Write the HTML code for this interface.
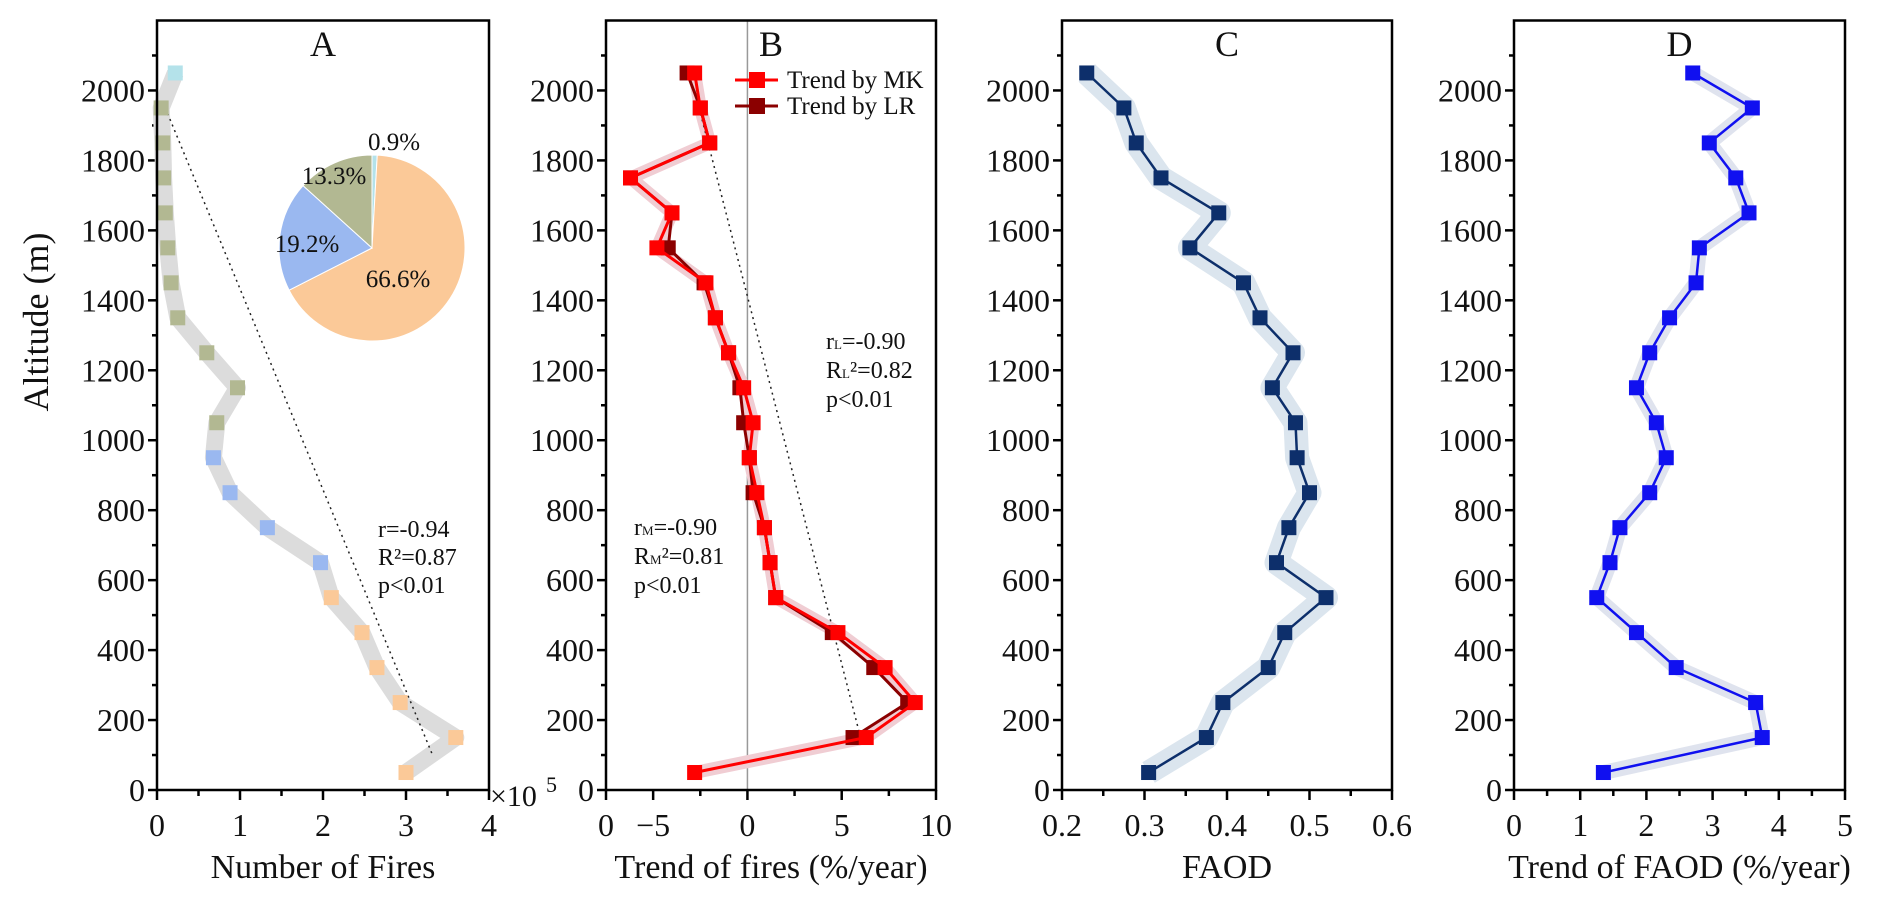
<!DOCTYPE html>
<html><head><meta charset="utf-8">
<style>
html,body{margin:0;padding:0;background:#fff;}
svg, svg text, svg tspan{font-family:"Liberation Serif","DejaVu Serif",serif;fill:#111;}
</style></head>
<body>
<svg id="fig" width="1892" height="900" viewBox="0 0 1892 900" font-family="Liberation Serif, DejaVu Serif, serif" xmlns="http://www.w3.org/2000/svg"></svg>
<script>
// ---- data ----
const altitudes = [50,150,250,350,450,550,650,750,850,950,1050,1150,1250,1350,1450,1550,1650,1750,1850,1950,2050];
const fires = [3.0,3.6,2.93,2.65,2.47,2.1,1.97,1.33,0.88,0.68,0.72,0.97,0.6,0.25,0.17,0.13,0.1,0.08,0.07,0.05,0.22];
const fireGroup = ['o','o','o','o','o','o','b','b','b','b','g','g','g','g','g','g','g','g','g','g','c'];
const pieLabels = ['0.9%','66.6%','19.2%','13.3%'];
const pieValues = [0.9,66.6,19.2,13.3];
const trendMK = [-2.8,6.3,8.9,7.3,4.8,1.5,1.2,0.9,0.5,0.1,0.3,-0.2,-1.0,-1.7,-2.2,-4.8,-4.0,-6.2,-2.0,-2.5,-2.8];
const trendLR = [null,5.6,8.5,6.7,4.5,1.5,1.2,0.9,0.3,0.1,-0.2,-0.4,-1.0,-1.7,-2.3,-4.2,-4.0,-6.2,-2.0,-2.5,-3.2];
const faod = [0.305,0.375,0.395,0.45,0.47,0.52,0.46,0.475,0.5,0.485,0.483,0.455,0.48,0.44,0.42,0.355,0.39,0.32,0.29,0.275,0.23];
const faodTrend = [1.35,3.75,3.65,2.45,1.85,1.25,1.45,1.6,2.05,2.3,2.15,1.85,2.05,2.35,2.75,2.8,3.55,3.35,2.95,3.6,2.7];
const yTicks = [0,200,400,600,800,1000,1200,1400,1600,1800,2000];
const xTicksA = [0,1,2,3,4];
const xTicksB = [-7.5,-5,0,5,10];
const xTickLabelsB = ['0','\u22125','0','5','10'];
const xTicksC = [0.2,0.3,0.4,0.5,0.6];
const xTicksD = [0,1,2,3,4,5];

const NS='http://www.w3.org/2000/svg';
const svg=document.getElementById('fig');
function mk(tag,attrs,parent,txt){const e=document.createElementNS(NS,tag);for(const k in attrs)e.setAttribute(k,attrs[k]);if(tag==='text')e.setAttribute('font-family','Liberation Serif, DejaVu Serif, serif');if(txt!==undefined)e.textContent=txt;(parent||svg).appendChild(e);return e;}

const TOP=20.5, BOT=790, YMAX=2200;
function yS(v){return BOT-(v/YMAX)*(BOT-TOP);}
function makeX(l,r,a,b){return v=>l+(v-a)/(b-a)*(r-l);}

function panel(name,l,r,xmin,xmax,ticks,labels,minorStep,title,letter){
  const g=mk('g',{});
  
  
  const xs=makeX(l,r,xmin,xmax);
  for(let v=0;v<=2100;v+=100){
    const major=v%200===0;
    const t=mk('line',{x1:l,x2:l-(major?9:5),y1:yS(v),y2:yS(v),stroke:'#000','stroke-width':2.5},g);
    
    
  }
  yTicks.forEach(v=>{
    const t=mk('text',{x:l-12,y:yS(v)+11,'text-anchor':'end','font-size':32},g,String(v));
    
    
  });
  for(let v=xmin;v<=xmax+1e-9;v+=minorStep){
    const isMajor=ticks.some(t=>Math.abs(t-v)<1e-9);
    const t=mk('line',{x1:xs(v),x2:xs(v),y1:BOT,y2:BOT+(isMajor?10:6),stroke:'#000','stroke-width':2.5},g);
    
    
  }
  ticks.forEach((v,i)=>{
    const t=mk('text',{x:xs(v),y:836,'text-anchor':'middle','font-size':32},g,labels[i]);
    
    
  });
  const tt=mk('text',{x:(l+r)/2,y:878,'text-anchor':'middle','font-size':34},g,title);
  
  
  const lt=mk('text',{x:(l+r)/2,y:56,'text-anchor':'middle','font-size':36},g,letter);
  
  
  return {g,xs};
}
function frame(l,r,g){
  const f=mk('rect',{x:l,y:TOP,width:r-l,height:BOT-TOP,fill:'none',stroke:'#000','stroke-width':2.5},g);
  
  
}
function pts(xs,vals){const p=[];vals.forEach((v,i)=>{if(v!==null)p.push(xs(v).toFixed(1)+','+yS(altitudes[i]).toFixed(1));});return p.join(' ');}
function markers(g,xs,vals,color,size,nm,colorsArr){
  vals.forEach((v,i)=>{if(v===null)return;
    const m=mk('rect',{x:xs(v)-size/2,y:yS(altitudes[i])-size/2,width:size,height:size,fill:colorsArr?colorsArr[i]:color},g);
    
    
  });
}

const yt=mk('text',{x:0,y:0,'text-anchor':'middle','font-size':36,transform:'translate(48,322) rotate(-90)'},svg,'Altitude (m)');



// ---- Panel A ----
{
  const L=157,R=489;
  const {g,xs}=panel('fires',L,R,0,4,xTicksA,['0','1','2','3','4'],0.5,'Number of Fires','A');
  const band=mk('polyline',{points:pts(xs,fires),fill:'none',stroke:'#dcdcdc','stroke-width':17,'stroke-linejoin':'round'},g);
  
  
  const reg=mk('line',{x1:xs(0.1),y1:yS(1950),x2:xs(3.32),y2:yS(100),stroke:'#222','stroke-width':1.5,'stroke-dasharray':'2,4'},g);
  
  
  const cmap={o:'#fbc998',b:'#9ab8f0',g:'#b2b892',c:'#b4e2ea'};
  markers(g,xs,fires,null,15,'fire-marker',fireGroup.map(k=>cmap[k]));
  frame(L,R,g);
  const ex=mk('text',{x:490,y:806,'font-size':30},g,'\u00d710');
  
  
  const ex2=mk('text',{x:546,y:792,'font-size':22},g,'5');
  
  
  ['r=-0.94','R\u00b2=0.87','p<0.01'].forEach((s,i)=>{
    const t=mk('text',{x:378,y:537+i*28,'font-size':24},g,s);
    
    
  });
  const pieColors=['#b4e2ea','#fbc998','#9ab8f0','#b2b892'];
  const cx=372,cy=248,Rr=93;const total=pieValues.reduce((a,b)=>a+b,0);
  let ang=-Math.PI/2;
  pieValues.forEach((v,i)=>{
    const a2=ang+v/total*2*Math.PI;
    const large=(a2-ang)>Math.PI?1:0;
    const d=`M${cx},${cy} L${cx+Rr*Math.cos(ang)},${cy+Rr*Math.sin(ang)} A${Rr},${Rr} 0 ${large} 1 ${cx+Rr*Math.cos(a2)},${cy+Rr*Math.sin(a2)} Z`;
    const s=mk('path',{d,fill:pieColors[i],stroke:'#fff','stroke-width':1},g);
    
    
    ang=a2;
  });
  const lp=[[394,150],[398,287],[307,252],[334,184]];
  pieLabels.forEach((s,i)=>{
    const t=mk('text',{x:lp[i][0],y:lp[i][1],'text-anchor':'middle','font-size':25},g,s);
    
    
  });
}
// ---- Panel B ----
{
  const L=606,R=936;
  const {g,xs}=panel('fire-trend',L,R,-7.5,10,xTicksB,xTickLabelsB,2.5,'Trend of fires (%/year)','B');
  const zl=mk('line',{x1:xs(0),x2:xs(0),y1:TOP,y2:BOT,stroke:'#999','stroke-width':1.5},g);
  
  
  const b1=mk('polyline',{points:pts(xs,trendMK),fill:'none',stroke:'#f0cdd3','stroke-width':13,'stroke-linejoin':'round'},g);
  
  
  const reg=mk('line',{x1:xs(-2.8),y1:yS(2000),x2:xs(6),y2:yS(150),stroke:'#222','stroke-width':1.5,'stroke-dasharray':'2,4'},g);
  
  
  const l2=mk('polyline',{points:pts(xs,trendLR),fill:'none',stroke:'#8b0000','stroke-width':3},g);
  
  
  markers(g,xs,trendLR,'#8b0000',15,'trend-lr-marker');
  const l1=mk('polyline',{points:pts(xs,trendMK),fill:'none',stroke:'#f00','stroke-width':3},g);
  
  
  markers(g,xs,trendMK,'#f00',15,'trend-mk-marker');
  frame(L,R,g);
  [['Trend by MK','#f00',80],['Trend by LR','#8b0000',106]].forEach(([s,c,y])=>{
    const ll=mk('line',{x1:735,x2:778,y1:y,y2:y,stroke:c,'stroke-width':3},g);
    
    
    const lm=mk('rect',{x:749,y:y-8,width:16,height:16,fill:c},g);
    
    
    const lt=mk('text',{x:787,y:y+8,'font-size':25},g,s);
    
    
  });
  const st1=[['r','L','=-0.90'],['R','L','\u00b2=0.82'],['p<0.01','','']];
  st1.forEach((s,i)=>{
    const t=mk('text',{x:826,y:349+i*29,'font-size':24},g);
    
    
    mk('tspan',{},t,s[0]);mk('tspan',{'font-size':13},t,s[1]);mk('tspan',{},t,s[2]);
  });
  const st2=[['r','M','=-0.90'],['R','M','\u00b2=0.81'],['p<0.01','','']];
  st2.forEach((s,i)=>{
    const t=mk('text',{x:634,y:535+i*29,'font-size':24},g);
    
    
    mk('tspan',{},t,s[0]);mk('tspan',{'font-size':13},t,s[1]);mk('tspan',{},t,s[2]);
  });
}
// ---- Panel C ----
{
  const L=1062,R=1392;
  const {g,xs}=panel('faod',L,R,0.2,0.6,xTicksC,['0.2','0.3','0.4','0.5','0.6'],0.05,'FAOD','C');
  const b=mk('polyline',{points:pts(xs,faod),fill:'none',stroke:'#dbe5ee','stroke-width':24,'stroke-linejoin':'round'},g);
  
  
  const l=mk('polyline',{points:pts(xs,faod),fill:'none',stroke:'#0d2f6b','stroke-width':2.5},g);
  
  
  markers(g,xs,faod,'#0d2f6b',15,'faod-marker');
  frame(L,R,g);
}
// ---- Panel D ----
{
  const L=1514,R=1845;
  const {g,xs}=panel('faod-trend',L,R,0,5,xTicksD,['0','1','2','3','4','5'],0.5,'Trend of FAOD (%/year)','D');
  const b=mk('polyline',{points:pts(xs,faodTrend),fill:'none',stroke:'#dfe3ee','stroke-width':15,'stroke-linejoin':'round'},g);
  
  
  const l=mk('polyline',{points:pts(xs,faodTrend),fill:'none',stroke:'#1010f0','stroke-width':2.5},g);
  
  
  markers(g,xs,faodTrend,'#1010f0',15,'faod-trend-marker');
  frame(L,R,g);
}
</script>
</body></html>
